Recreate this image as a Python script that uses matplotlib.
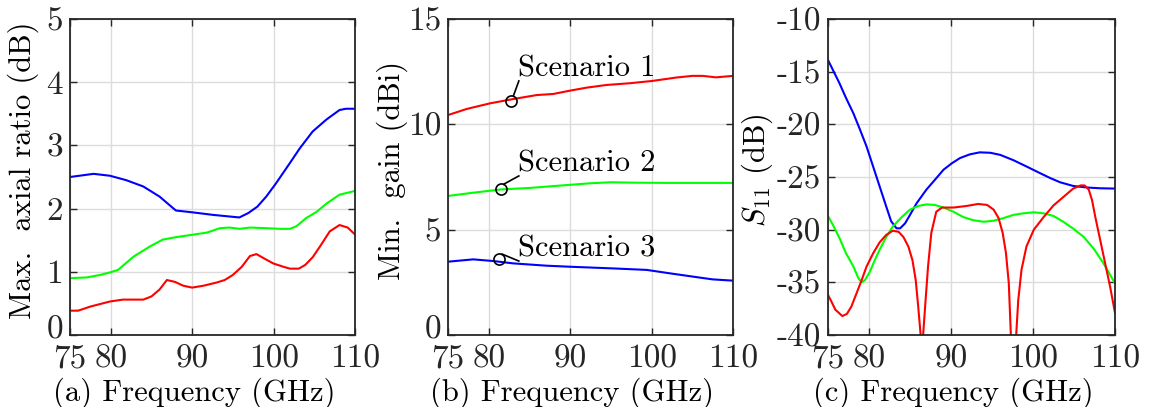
import matplotlib
matplotlib.use("Agg")
import matplotlib.pyplot as plt
from matplotlib.transforms import ScaledTranslation

plt.rcParams['font.family'] = ['cmr10']
plt.rcParams['mathtext.fontset'] = 'cm'
plt.rcParams['axes.unicode_minus'] = False
plt.rcParams['axes.formatter.use_mathtext'] = False

# ---------------- data ----------------
xticks = [75, 80, 90, 100, 110]

# (a) Max. axial ratio
ar_blue_f = [75, 77.9, 79.9, 81.9, 84, 86, 88, 90.1, 92.6, 95.8, 96.9, 98, 99.1, 100.3, 102, 103.2, 104.8, 106.5, 108.1, 108.9, 110]
ar_blue = [2.50, 2.55, 2.52, 2.45, 2.35, 2.19, 1.97, 1.94, 1.90, 1.86, 1.93, 2.03, 2.19, 2.40, 2.72, 2.95, 3.22, 3.41, 3.56, 3.58, 3.58]
ar_green_f = [75, 77, 78.7, 79.9, 80.9, 82.8, 84.8, 86.4, 88.1, 89.7, 91.8, 93.4, 94.6, 95.8, 97.1, 99.1, 100.8, 102, 102.8, 104, 105.3, 106.5, 108.1, 110]
ar_green = [0.90, 0.91, 0.95, 0.99, 1.03, 1.24, 1.40, 1.51, 1.55, 1.58, 1.62, 1.69, 1.70, 1.68, 1.70, 1.69, 1.68, 1.68, 1.72, 1.85, 1.95, 2.08, 2.22, 2.28]
ar_red_f = [75, 76, 77.5, 79.9, 81.5, 84, 85, 86, 86.9, 87.9, 88.9, 90, 91.4, 93, 94, 95, 96.1, 97.1, 97.9, 99, 100, 101.2, 102, 103.1, 103.9, 104.8, 105.8, 106.9, 108.1, 109.1, 110]
ar_red = [0.385, 0.385, 0.45, 0.53, 0.56, 0.56, 0.61, 0.72, 0.87, 0.84, 0.78, 0.75, 0.78, 0.83, 0.87, 0.95, 1.08, 1.25, 1.28, 1.20, 1.13, 1.08, 1.05, 1.05, 1.11, 1.23, 1.42, 1.64, 1.74, 1.70, 1.59]

# (b) Min. gain
g_red_f = [75, 77.3, 80.2, 83, 85.9, 87.9, 90, 92, 94.5, 97.3, 100.1, 103, 105, 106.3, 107.9, 110]
g_red = [10.44, 10.73, 11.0, 11.2, 11.39, 11.44, 11.6, 11.74, 11.87, 11.95, 12.06, 12.22, 12.3, 12.3, 12.23, 12.3]
g_green_f = [75, 78, 81.5, 85, 88, 92.4, 95, 98, 102, 106, 110]
g_green = [6.60, 6.75, 6.91, 6.98, 7.07, 7.20, 7.25, 7.23, 7.22, 7.22, 7.22]
g_blue_f = [75, 78.1, 80.6, 83, 87.1, 90, 95.3, 99.4, 102.2, 105.1, 107.5, 110]
g_blue = [3.48, 3.59, 3.51, 3.40, 3.29, 3.24, 3.16, 3.09, 2.93, 2.77, 2.64, 2.58]
scen_labels = ['Scenario 1', 'Scenario 2', 'Scenario 3']
scen_pts = [(82.7, 11.12), (81.5, 6.91), (81.3, 3.59)]
scen_text = [(83.6, 12.66), (83.6, 8.15), (83.6, 4.11)]

# (c) S11
s_blue_f = [75, 75.6, 76.4, 77.2, 78.1, 78.9, 79.7, 80.5, 81.3, 82.1, 82.7, 83.35, 83.8, 84.4, 85.0, 85.8, 87, 88, 89.1, 90.1, 91.1, 92.3, 93.5, 94.8, 96, 97.6, 99.2, 100.9, 102.1, 103.3, 104.9, 106.6, 108.2, 110]
s_blue = [-13.9, -14.84, -16.1, -17.5, -18.96, -20.5, -22.1, -24.0, -25.9, -27.8, -29.2, -29.87, -29.87, -29.4, -28.6, -27.5, -26.2, -25.3, -24.3, -23.7, -23.2, -22.85, -22.66, -22.7, -22.9, -23.4, -24.0, -24.65, -25.1, -25.5, -25.85, -26.0, -26.07, -26.1]
s_green_f = [75, 75.6, 76.4, 77.2, 78.1, 78.7, 79.1, 79.5, 80.1, 80.7, 81.3, 82.1, 82.9, 84, 85, 86, 87, 88, 89.1, 90.3, 91.5, 92.7, 94, 95.2, 96.4, 97.6, 98.8, 100.1, 101.3, 102.5, 103.7, 104.9, 106.2, 107.4, 108.6, 110]
s_green = [-28.7, -29.55, -30.8, -32.25, -33.5, -34.6, -35.0, -34.8, -34.0, -32.9, -31.9, -30.7, -29.7, -28.8, -28.1, -27.75, -27.6, -27.65, -27.9, -28.3, -28.8, -29.1, -29.25, -29.15, -28.9, -28.6, -28.45, -28.35, -28.45, -28.7, -29.25, -29.9, -30.7, -31.8, -33.2, -35.1]
s_red_f = [75, 75.4, 75.9, 76.75, 77.3, 77.85, 78.5, 79.1, 79.7, 80.5, 81.3, 82.1, 82.9, 83.6, 84.2, 84.8, 85.3, 85.7, 86.0, 86.3, 86.45, 86.6, 86.9, 87.2, 87.6, 88.2, 88.9, 90.3, 91.9, 93.3, 94.4, 95.2, 95.8, 96.3, 96.7, 97.05, 97.3, 97.6, 97.95, 98.2, 98.6, 99.2, 100.1, 101.3, 102.5, 103.7, 104.9, 105.8, 106.3, 106.8, 107.2, 107.6, 108.2, 108.8, 109.4, 110]
s_red = [-36.2, -36.8, -37.6, -38.2, -38.0, -37.3, -36.0, -34.8, -33.5, -32.25, -31.2, -30.5, -30.1, -30.2, -30.7, -31.6, -32.9, -34.8, -37.3, -40.0, -44.0, -40.0, -36.7, -33.5, -30.3, -28.3, -27.9, -27.9, -27.75, -27.56, -27.65, -28.1, -28.9, -30.3, -32.2, -35.1, -40.0, -45.0, -40.0, -36.7, -33.8, -31.6, -30.0, -28.8, -27.7, -26.9, -26.1, -25.8, -25.8, -26.2, -27.2, -28.8, -31.0, -33.2, -35.4, -37.9]

BLUE = (0, 0, 1)
GREEN = (0, 1, 0)
RED = (1, 0, 0)
AXC = '#262626'

W, H = 1151, 407
fig = plt.figure(figsize=(W / 100, H / 100), dpi=100)

TICKFS = 24
LABFS = 22

def make_ax(left_px, width_px):
    ax = fig.add_axes([left_px / W, (H - 335) / H, width_px / W, 316 / H])
    ax.set_xlim(75, 110)
    ax.set_xticks(xticks)
    ax.grid(True, color='#dcdcdc', linewidth=1.0)
    ax.set_axisbelow(True)
    ax.tick_params(direction='in', top=True, right=True, length=5, width=1.0,
                   labelsize=TICKFS, colors=AXC)
    ax.tick_params(axis='x', pad=7)
    ax.tick_params(axis='y', pad=5)
    for s in ax.spines.values():
        s.set_color(AXC)
        s.set_linewidth(1.3)
    return ax

def finish(ax, xlab, ylab, ylab_x, lift_zero):
    ax.set_xlabel(xlab, fontsize=LABFS, color='black')
    ax.xaxis.label.set_verticalalignment('baseline')
    ax.xaxis.set_label_coords(0.435, -0.209)
    ax.set_ylabel(ylab, fontsize=LABFS, color='black')
    ax.yaxis.set_label_coords(ylab_x, 0.52)
    if lift_zero:
        fig.canvas.draw()
        lab0 = ax.yaxis.get_major_ticks()[0].label1
        lab0.set_transform(lab0.get_transform() + ScaledTranslation(0, 8 / 100, fig.dpi_scale_trans))

lw = 1.5
ax1 = make_ax(70, 285)
ax1.plot(ar_blue_f, ar_blue, color=BLUE, lw=lw)
ax1.plot(ar_green_f, ar_green, color=GREEN, lw=lw)
ax1.plot(ar_red_f, ar_red, color=RED, lw=lw)
ax1.set_ylim(0, 5)
ax1.set_yticks([0, 1, 2, 3, 4, 5])

ax2 = make_ax(448, 285)
ax2.plot(g_red_f, g_red, color=RED, lw=lw)
ax2.plot(g_green_f, g_green, color=GREEN, lw=lw)
ax2.plot(g_blue_f, g_blue, color=BLUE, lw=lw)
ax2.set_ylim(0, 15)
ax2.set_yticks([0, 5, 10, 15])
for lab, (px, py), (tx, ty) in zip(scen_labels, scen_pts, scen_text):
    ax2.plot([px], [py], marker='o', ms=8, mfc='none', mec='black', mew=1.2)
    ax2.plot([px + 0.35, tx + 0.1], [py + 0.25, ty - 0.6], color='black', lw=1.2)
    ax2.text(tx, ty, lab, fontsize=LABFS, color='black', va='center', ha='left')

ax3 = make_ax(828, 287)
ax3.plot(s_blue_f, s_blue, color=BLUE, lw=lw)
ax3.plot(s_green_f, s_green, color=GREEN, lw=lw)
ax3.plot(s_red_f, s_red, color=RED, lw=lw)
ax3.set_ylim(-40, -10)
ax3.set_yticks([-40, -35, -30, -25, -20, -15, -10])

finish(ax1, '(a) Frequency (GHz)', 'Max.  axial ratio (dB)', -0.109, True)
finish(ax2, '(b) Frequency (GHz)', 'Min.  gain (dBi)', -0.140, True)
finish(ax3, '(c) Frequency (GHz)', '$S_{11}$ (dB)', -0.185, False)

fig.savefig('out.png', dpi=100)
